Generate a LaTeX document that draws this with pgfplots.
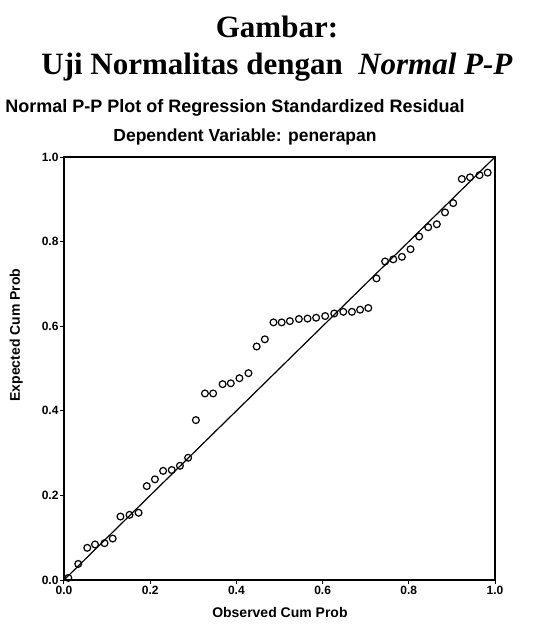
\documentclass[border=0pt]{standalone}
\usepackage{pgfplots}
\pgfplotsset{compat=1.18}
\usepackage{fontspec}
\setmainfont{Liberation Serif}
\newfontfamily\arial{Liberation Sans}
\pgfplotstableread{
x y
0.010 0.005
0.033 0.038
0.054 0.076
0.072 0.084
0.094 0.087
0.113 0.098
0.131 0.150
0.152 0.154
0.173 0.159
0.192 0.222
0.211 0.238
0.230 0.258
0.250 0.260
0.269 0.270
0.288 0.289
0.306 0.378
0.327 0.441
0.346 0.441
0.368 0.463
0.387 0.465
0.407 0.477
0.428 0.489
0.447 0.552
0.466 0.569
0.486 0.609
0.505 0.609
0.524 0.612
0.545 0.617
0.565 0.618
0.585 0.620
0.606 0.624
0.627 0.630
0.648 0.634
0.668 0.634
0.687 0.639
0.706 0.643
0.725 0.713
0.745 0.753
0.764 0.758
0.784 0.764
0.804 0.782
0.824 0.812
0.845 0.834
0.865 0.841
0.884 0.869
0.903 0.891
0.923 0.948
0.942 0.952
0.964 0.957
0.983 0.963
}\pppoints
\begin{document}
\begin{tikzpicture}
\begin{axis}[
  scale only axis,
  width=431pt, height=423pt,
  xmin=0, xmax=1, ymin=0, ymax=1,
  xtick={0,0.2,0.4,0.6,0.8,1.0},
  ytick={0,0.2,0.4,0.6,0.8,1.0},
  tick pos=left,
  tick align=outside,
  xtick style={black, line width=1pt},
  ytick style={black, line width=0.8pt},
  major tick length=4pt,
  axis line style={black, line width=1.2pt},
  xticklabel style={font=\arial\bfseries\fontsize{12}{12}\selectfont, yshift=1pt},
  yticklabel style={font=\arial\bfseries\fontsize{12}{12}\selectfont, xshift=2pt},
  /pgf/number format/assume math mode=true,
  /pgf/number format/.cd, fixed, fixed zerofill, precision=1,
  /pgfplots/.cd,
  xlabel={Observed Cum Prob},
  ylabel={Expected Cum Prob},
  every axis x label/.style={at={(axis description cs:0.501,-0.0757)}, anchor=center, font=\arial\bfseries\fontsize{14}{14}\selectfont},
  every axis y label/.style={at={(axis description cs:-0.111,0.579)}, anchor=center, rotate=90, font=\arial\bfseries\fontsize{14}{14}\selectfont},
]
\addplot[black, line width=1.2pt] coordinates {(0,0) (1,1)};
\addplot[only marks, mark=o, mark size=3.4pt, mark options={line width=1.2pt, fill=none}, black] table[x=x,y=y] {\pppoints};
\end{axis}
\node[font=\bfseries\fontsize{31}{31}\selectfont, anchor=center] at ([xshift=213pt,yshift=130pt]current axis.north west) {Gambar:};
\node[font=\bfseries\fontsize{31}{31}\selectfont, anchor=center] at ([xshift=213pt,yshift=90pt]current axis.north west) {Uji Normalitas dengan \ \textit{Normal P-P}};
\node[font=\arial\bfseries\fontsize{18}{18}\selectfont, anchor=center] at ([xshift=171pt,yshift=49pt]current axis.north west) {Normal P-P Plot of Regression Standardized Residual};
\node[font=\arial\bfseries\fontsize{17.5}{17.5}\selectfont, anchor=center] at ([xshift=181pt,yshift=20pt]current axis.north west) {Dependent Variable: penerapan};
\path ([xshift=-64pt,yshift=-46pt]current axis.south west) rectangle ([xshift=38pt,yshift=157pt]current axis.north east);
\end{tikzpicture}
\end{document}
